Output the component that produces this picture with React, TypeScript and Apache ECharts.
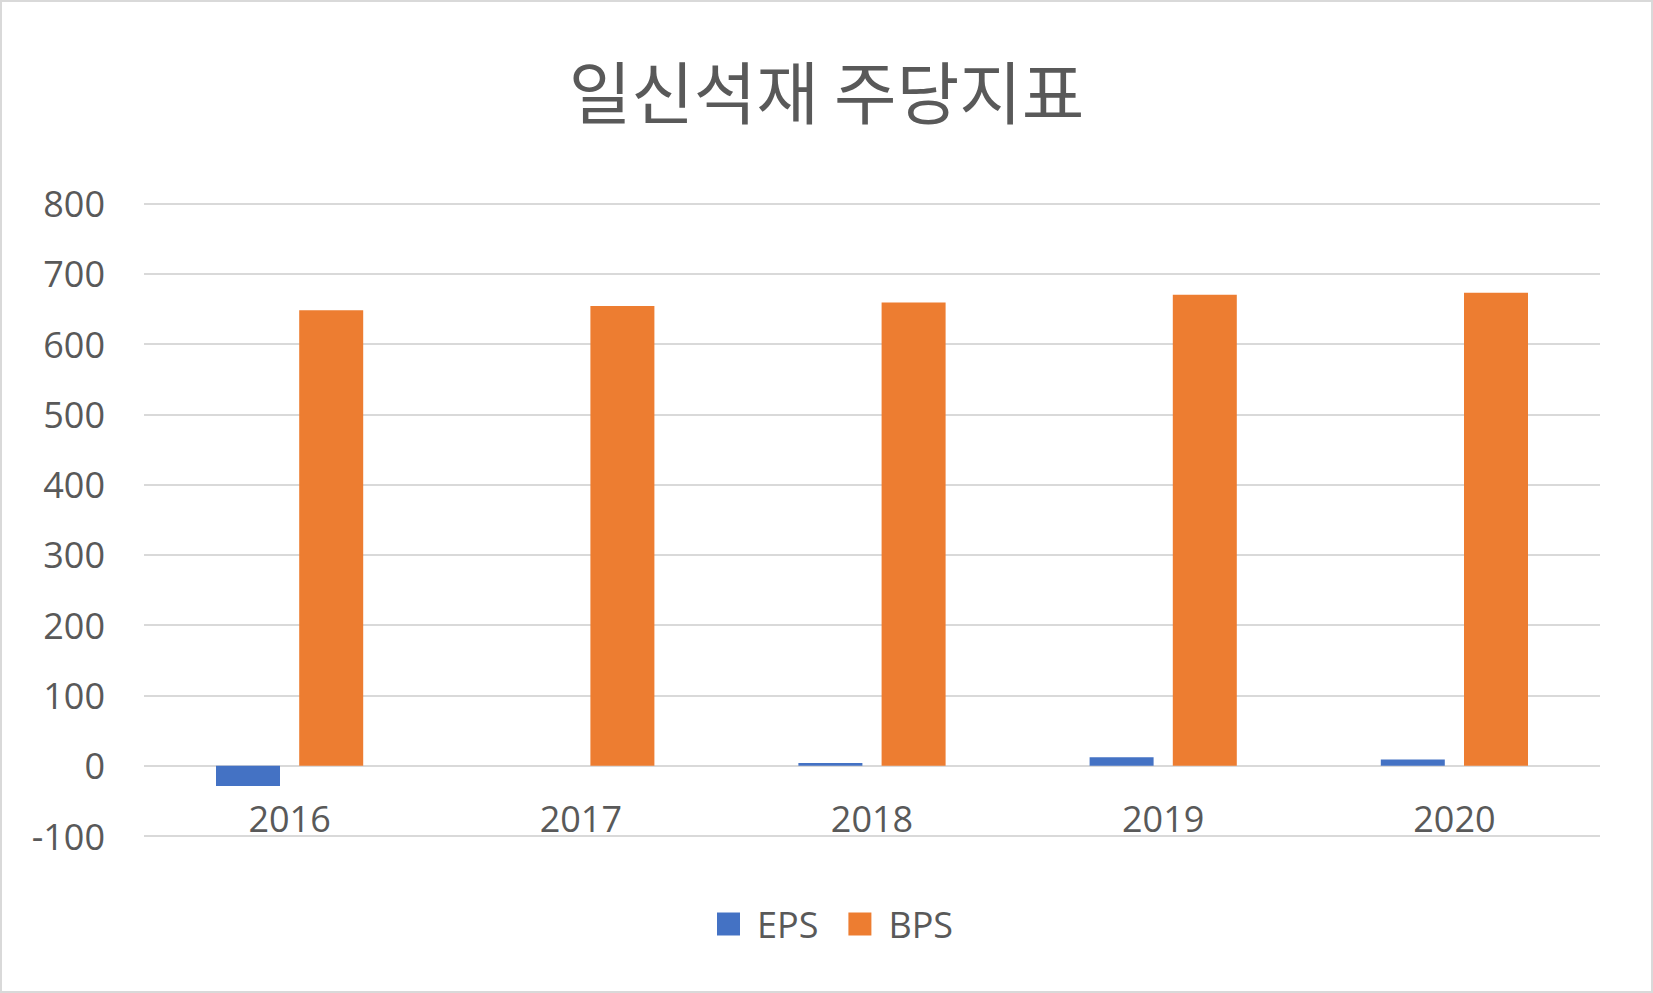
import React, { useEffect, useRef } from "react";
import * as echarts from "echarts";

const categories = ["2016", "2017", "2018", "2019", "2020"];
const epsValues = [-29, 0, 4, 12, 9];
const bpsValues = [648, 654, 659, 670, 673];
const seriesNames = ["EPS", "BPS"];
const titleText = "일신석재 주당지표";

const TEXT = "#595959";
const GRID = "#D9D9D9";

export default function App() {
  const ref = useRef<HTMLDivElement>(null);
  useEffect(() => {
    const chart = echarts.init(ref.current!, null, { renderer: "svg" });
    chart.setOption({
      animation: false,
      backgroundColor: "#ffffff",
      title: {
        text: titleText,
        left: "center",
        top: 50,
        textStyle: {
          fontFamily: "Noto Sans CJK KR",
          fontWeight: "normal",
          fontSize: 68,
          color: TEXT,
        },
      },
      graphic: [
        {
          type: "rect",
          shape: { x: 1, y: 1, width: 1651, height: 991 },
          style: { fill: "none", stroke: GRID, lineWidth: 2 },
          silent: true,
        },
      ],
      legend: {
        data: seriesNames,
        left: 712,
        top: 901,
        itemWidth: 23,
        itemHeight: 23,
        itemGap: 30,
        icon: "rect",
        textStyle: {
          fontFamily: "Open Sans",
          fontSize: 36,
          color: TEXT,
          padding: [0, 0, 0, 12],
        },
      },
      grid: { left: 144, right: 53, top: 203.5, bottom: 157 },
      xAxis: {
        type: "category",
        data: categories,
        axisLine: { show: false, onZero: false },
        axisTick: { show: false },
        axisLabel: {
          margin: -36,
          fontFamily: "Open Sans",
          fontSize: 36,
          color: TEXT,
        },
      },
      yAxis: {
        type: "value",
        min: -100,
        max: 800,
        interval: 100,
        axisLine: { show: false },
        axisTick: { show: false },
        splitLine: { lineStyle: { color: GRID, width: 2 } },
        axisLabel: {
          margin: 39,
          fontFamily: "Open Sans",
          fontSize: 36,
          color: TEXT,
        },
      },
      series: [
        {
          name: seriesNames[0],
          type: "bar",
          data: epsValues,
          barWidth: 64,
          barGap: "30%",
          itemStyle: { color: "#4472C4" },
        },
        {
          name: seriesNames[1],
          type: "bar",
          data: bpsValues,
          barWidth: 64,
          barGap: "30%",
          itemStyle: { color: "#ED7D31" },
        },
      ],
    });
    return () => chart.dispose();
  }, []);
  return (
    <div
      ref={ref}
      style={{ position: "fixed", left: 0, top: 0, width: 1653, height: 993 }}
    />
  );
}
